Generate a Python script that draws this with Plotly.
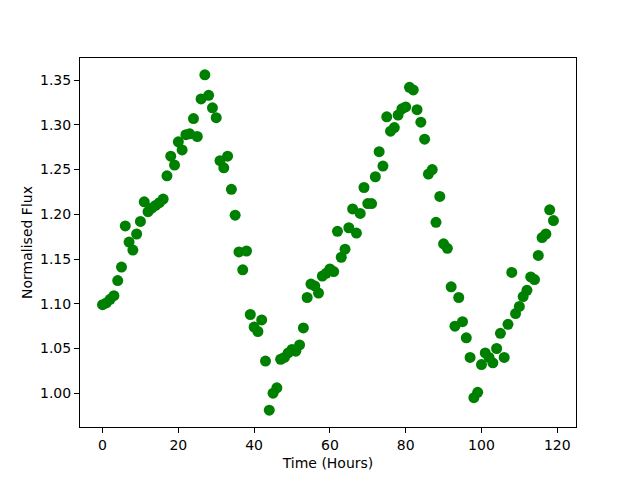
import plotly.graph_objects as go

hours = list(range(120))
flux = [
    1.099, 1.101, 1.105, 1.109, 1.126, 1.141, 1.187, 1.169, 1.160, 1.178,
    1.192, 1.214, 1.203, 1.207, 1.210, 1.213, 1.217, 1.243, 1.265, 1.255,
    1.281, 1.272, 1.289, 1.290, 1.307, 1.287, 1.329, 1.356, 1.333, 1.319,
    1.308, 1.260, 1.252, 1.265, 1.228, 1.199, 1.158, 1.138, 1.159, 1.088,
    1.074, 1.069, 1.082, 1.036, 0.981, 1.000, 1.006, 1.038, 1.040, 1.045,
    1.049, 1.047, 1.054, 1.073, 1.107, 1.122, 1.120, 1.112, 1.131, 1.134,
    1.139, 1.136, 1.181, 1.152, 1.161, 1.185, 1.206, 1.179, 1.201, 1.230,
    1.212, 1.212, 1.242, 1.270, 1.254, 1.309, 1.293, 1.297, 1.311, 1.318,
    1.320, 1.342, 1.339, 1.317, 1.303, 1.284, 1.245, 1.250, 1.191, 1.220,
    1.167, 1.162, 1.119, 1.075, 1.107, 1.080, 1.062, 1.040, 0.995, 1.001,
    1.032, 1.045, 1.040, 1.034, 1.050, 1.067, 1.040, 1.077, 1.135, 1.089,
    1.097, 1.108, 1.115, 1.130, 1.127, 1.154, 1.174, 1.178, 1.205, 1.193,
]

xmin, xmax = min(hours), max(hours)
ymin, ymax = min(flux), max(flux)
xpad = (xmax - xmin) * 0.05
ypad = (ymax - ymin) * 0.05

fig = go.Figure(go.Scatter(
    x=hours, y=flux, mode="markers",
    marker=dict(color="#008000", size=11, line=dict(width=0)),
))

axis_common = dict(
    showgrid=False, zeroline=False, showline=True, linecolor="black",
    linewidth=1, mirror=True, ticks="outside", ticklen=5, tickwidth=1,
    tickcolor="black", automargin=False,
    tickfont=dict(family="DejaVu Sans", size=14, color="black"),
)

# page body has an 8px default margin, so the figure is offset by 8px
fig.update_layout(
    width=640, height=480,
    margin=dict(l=72, r=72, t=50, b=61, pad=0),
    paper_bgcolor="white", plot_bgcolor="white",
    showlegend=False,
    font=dict(family="DejaVu Sans", size=14, color="black"),
    xaxis=dict(range=[xmin - xpad, xmax + xpad], dtick=20, tick0=0,
               title=dict(text="Time (Hours)", standoff=6,
                          font=dict(family="DejaVu Sans", size=14)),
               **axis_common),
    yaxis=dict(range=[ymin - ypad, ymax + ypad], dtick=0.05, tick0=1.0,
               tickformat=".2f",
               title=dict(text="Normalised Flux", standoff=4,
                          font=dict(family="DejaVu Sans", size=14)),
               **axis_common),
)

fig.write_html("out.html")
